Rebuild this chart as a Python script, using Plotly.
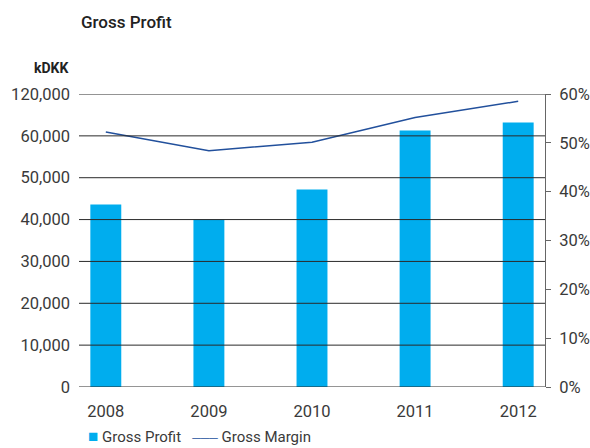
import plotly.graph_objects as go

# Gross profit (kDKK) and gross margin per year
years = ["2008", "2009", "2010", "2011", "2012"]
gross_profit = [43600, 40000, 47200, 61300, 63200]
gross_margin = [0.522, 0.484, 0.501, 0.552, 0.585]

# Left axis grid values and their printed labels
profit_ticks = [0, 10000, 20000, 30000, 40000, 50000, 60000, 70000]
profit_tick_labels = ["0", "10,000", "20,000", "30,000", "40,000", "50,000", "60,000", "120,000"]
margin_ticks = [0, 0.1, 0.2, 0.3, 0.4, 0.5, 0.6]

BAR_BLUE = "#00ADEE"
LINE_BLUE = "#22509C"
TEXT = "#3a3a3a"
FONT = "Roboto"

x_idx = list(range(len(years)))

fig = go.Figure()
fig.add_trace(go.Bar(
    x=x_idx, y=gross_profit, name="Gross Profit",
    marker=dict(color=BAR_BLUE, line=dict(width=0)),
    width=0.3, yaxis="y",
))
fig.add_trace(go.Scatter(
    x=x_idx, y=gross_margin, name="Gross Margin", mode="lines",
    line=dict(color=LINE_BLUE, width=1.5), yaxis="y2",
))

# Horizontal grid lines drawn above the bars
shapes = [
    dict(type="line", xref="paper", yref="y", x0=0, x1=1, y0=v, y1=v,
         line=dict(color="#2a2a2a", width=1), layer="above")
    for v in profit_ticks
]

# Compact legend row below the year labels
legend_text = (
    f"<span style='color:{BAR_BLUE};font-size:17px'>■</span>&nbsp;Gross Profit&nbsp;&nbsp;&nbsp;"
    f"<span style='color:{LINE_BLUE};font-size:12px'>───</span>&nbsp;Gross Margin"
)

fig.update_layout(
    width=590, height=448,
    margin=dict(l=79, r=45, t=94, b=61, autoexpand=False),
    paper_bgcolor="white", plot_bgcolor="white",
    font=dict(family=FONT, size=16, color=TEXT),
    showlegend=False,
    bargap=0.7,
    xaxis=dict(
        range=[-0.26, 4.26], tickmode="array", tickvals=x_idx, ticktext=years,
        showgrid=False, zeroline=False, showline=False, ticks="",
        tickfont=dict(size=16.5, color=TEXT), ticklabelstandoff=12, automargin=False,
    ),
    yaxis=dict(
        range=[0, 70000], tickmode="array", tickvals=profit_ticks, ticktext=profit_tick_labels,
        showgrid=False, zeroline=False, showline=False, ticks="",
        tickfont=dict(size=16.5, color=TEXT), ticklabelstandoff=8, automargin=False,
    ),
    yaxis2=dict(
        range=[0, 0.6], overlaying="y", side="right",
        tickmode="array", tickvals=margin_ticks, tickformat=".0%",
        showgrid=False, zeroline=False, showline=True, linecolor="#666", linewidth=1,
        ticks="outside", ticklen=5, tickcolor="#666",
        tickfont=dict(size=16.5, color=TEXT), ticklabelstandoff=5, automargin=False,
    ),
    shapes=shapes,
    annotations=[
        dict(text="Gross Profit", xref="paper", yref="paper", x=0, y=1.245,
             xanchor="left", yanchor="middle", showarrow=False,
             font=dict(size=17, color="#222", weight=500)),
        dict(text="kDKK", xref="paper", yref="paper", x=-0.019, y=1.09,
             xanchor="right", yanchor="middle", showarrow=False,
             font=dict(size=14, color="#222", weight="bold")),
        dict(text=legend_text, xref="paper", yref="paper", x=0.015, y=-0.168,
             xanchor="left", yanchor="middle", showarrow=False,
             font=dict(size=15, color=TEXT)),
    ],
)

fig.write_html("out.html")
